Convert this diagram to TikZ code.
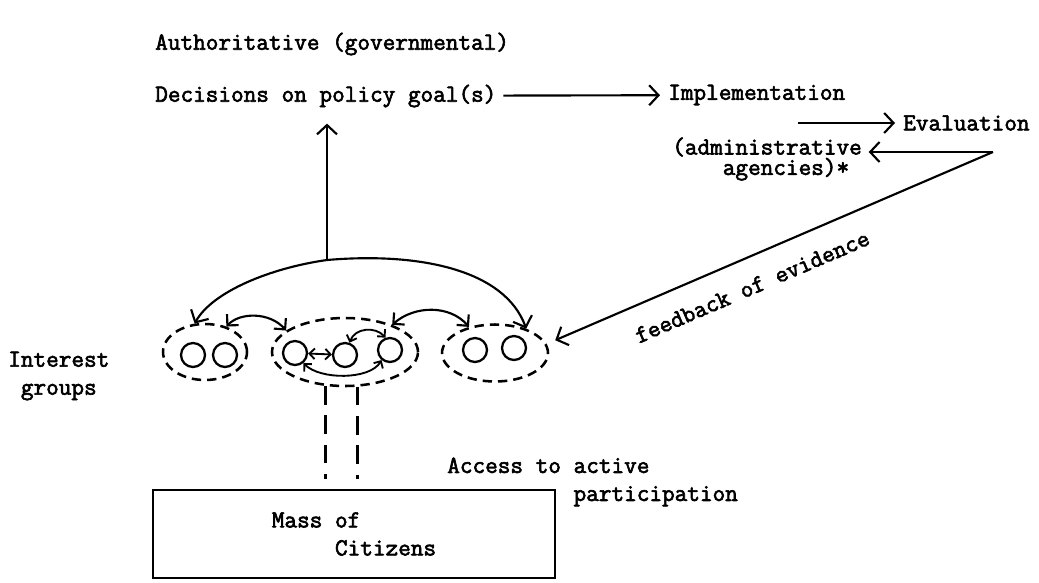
\documentclass[tikz,border=0pt]{standalone}
\usepackage{fontspec}
\setmonofont{Latin Modern Mono}[FakeBold=2.5]
\usepackage{tikz}
\usetikzlibrary{shapes.geometric}
\usetikzlibrary{arrows.meta}
\newcommand{\typefont}{\ttfamily\fontsize{18.4}{21}\selectfont}
\tikzstyle{typed} = [inner sep=0pt, font=\typefont, align=left, anchor=west]
\tikzstyle{cluster} = [ellipse, draw, line width=1.9pt, dash pattern=on 7pt off 4.5pt, inner sep=0pt]
\tikzstyle{member} = [circle, draw, line width=1.7pt, minimum size=18pt, inner sep=0pt]
\tikzstyle{mass} = [rectangle, draw, line width=1.8pt, minimum width=301.5pt, minimum height=66pt, inner sep=0pt, font=\typefont, align=left]
\tikzstyle{arrow} = [line width=1.6pt, -{Straight Barb[length=7pt,width=15pt]}]
\tikzstyle{twoway} = [line width=1.6pt, {Straight Barb[length=6pt,width=12pt]}-{Straight Barb[length=6pt,width=12pt]}]
\tikzstyle{tiny} = [line width=1.4pt, {Straight Barb[length=4pt,width=8pt]}-{Straight Barb[length=4pt,width=8pt]}]
\tikzstyle{link} = [line width=1.9pt, dash pattern=on 14pt off 8pt]
\begin{document}
\begin{tikzpicture}[x=0.75pt, y=-0.75pt]
    \useasboundingbox (0,0) rectangle (1039,582);
    % text
    \node (auth) [typed] at (155,44) {Authoritative (governmental)};
    \node (decide) [typed] at (155,96) {Decisions on policy goal(s)};
    \node (impl) [typed] at (668,95) {Implementation};
    \node (eval) [typed] at (903,123) {Evaluation};
    \node (admin) [typed, font=\ttfamily\fontsize{18.4}{14}\selectfont] at (672,159) {(administrative\\\phantom{(adm}agencies)*};
    \node (interest) [typed] at (8,376) {Interest\\\phantom{.}groups};
    \node (access) [typed] at (447,482) {Access to active\\\phantom{Access to.}participation};
    \node (citizens) [mass] at (354,534) {Mass of\\\phantom{.....}Citizens};
    % interest groups
    \node (grpA) [cluster, minimum width=63pt, minimum height=42pt] at (205,352) {};
    \node (grpB) [cluster, minimum width=109.5pt, minimum height=51pt] at (345,352) {};
    \node (grpC) [cluster, minimum width=79.5pt, minimum height=42.75pt] at (495,353) {};
    \node (a1) [member] at (193,355) {};
    \node (a2) [member] at (225,355) {};
    \node (b1) [member] at (295,353) {};
    \node (b2) [member] at (345,355) {};
    \node (b3) [member] at (390,350) {};
    \node (c1) [member] at (475,350) {};
    \node (c2) [member] at (514,348) {};
    \coordinate (hub) at (327,260);
    \coordinate (evin) at (798,123);
    \coordinate (evout) at (993,152);

    \draw [arrow, shorten <=5pt, shorten >=6pt] (decide) -- (impl);
    \draw [arrow, shorten >=6pt] (evin) -- (eval);
    \draw [arrow, shorten >=5pt] (evout) -- (evout -| admin.east);
    \draw [arrow, shorten >=7pt] (evout) -- node[pos=0.565, sloped, below=15pt, typed, anchor=north] {feedback of evidence} (grpC.10);
    \draw [arrow, shorten >=12pt] (hub) -- (hub |- decide.south);
    \draw [arrow] (hub) .. controls (270,268) and (212,292) .. (grpA.110);
    \draw [arrow] (hub) .. controls (420,252) and (505,270) .. (grpC.38);
    \draw [twoway] (grpA.50) .. controls (240,312) and (270,312) .. (grpB.160);
    \draw [twoway] (grpB.30) .. controls (415,305) and (450,305) .. (grpC.135);
    \draw [tiny] (b1) -- (b2);
    \draw [tiny] (b2.70) .. controls (355,328) and (375,326) .. (b3.110);
    \draw [tiny] (b1.-50) .. controls (320,380) and (370,380) .. (b3.-130);
    \draw [link, shorten >=7pt] (grpB.240) -- (grpB.240 |- citizens.north);
    \draw [link, shorten >=7pt] (grpB.290) -- (grpB.290 |- citizens.north);
\end{tikzpicture}
\end{document}
